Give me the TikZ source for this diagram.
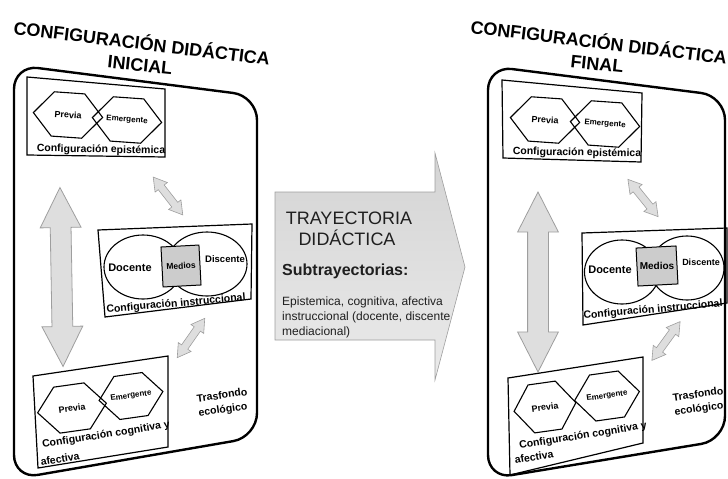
\documentclass[tikz,border=0pt]{standalone}
\usepackage{fontspec}
\setmainfont{Liberation Sans}
\usetikzlibrary{calc,shapes.geometric,shapes.arrows}
\definecolor{flecha}{rgb}{0.87,0.87,0.87}
\definecolor{borde}{rgb}{0.62,0.62,0.62}
\definecolor{texto}{rgb}{0.12,0.12,0.12}

\begin{document}
\begin{tikzpicture}[x=1pt,y=1pt,yscale=-1,
	hexa/.style={inner sep=0pt,minimum width=69pt,minimum height=44pt,font=\bfseries\fontsize{9}{9}\selectfont,
		append after command={\pgfextra{\draw[line width=1.1pt]
			(\tikzlastnode.west) -- ($(\tikzlastnode.north west)!0.28!(\tikzlastnode.north east)$)
			-- ($(\tikzlastnode.north west)!0.72!(\tikzlastnode.north east)$) -- (\tikzlastnode.east)
			-- ($(\tikzlastnode.south west)!0.72!(\tikzlastnode.south east)$)
			-- ($(\tikzlastnode.south west)!0.28!(\tikzlastnode.south east)$) -- cycle;}}},
	elipse/.style={ellipse,draw,line width=1.1pt,minimum width=78pt,minimum height=64pt},
	medios/.style={draw,fill=black!20,line width=1pt,inner sep=0pt,minimum width=38pt,minimum height=40pt,font=\bfseries\fontsize{8.5}{9}\selectfont},
	caja/.style={line width=1.2pt},
	marco/.style={line width=2.4pt,rounded corners=24pt},
	flechota/.style={double arrow,draw=borde,fill=flecha,line width=0.8pt,inner xsep=0pt,inner ysep=10pt,double arrow head extend=10pt,double arrow tip angle=54,minimum width=40pt},
	flechita/.style={double arrow,draw=borde,fill=flecha,line width=0.6pt,inner xsep=0pt,inner ysep=3.5pt,double arrow head extend=4pt,double arrow tip angle=62,minimum width=15pt,minimum height=48pt},
	titulo/.style={font=\bfseries\fontsize{18}{18}\selectfont,inner sep=0pt},
	etiq/.style={font=\bfseries\fontsize{10.5}{12}\selectfont,inner sep=0pt}]
\useasboundingbox (0,0) rectangle (728,479);

% panel inicial
\draw[marco] (14,65) -- (257,96) -- (257,437) -- (14,479) -- cycle;
\node[titulo,rotate=-7] (tituloA) at (142,42) {CONFIGURACIÓN DIDÁCTICA};
\node[titulo,rotate=-6] (inicial) at (140,65) {INICIAL};

\draw[caja] (27,77) -- (165,89) -- (165,157) -- (27,155) -- cycle;
\node[hexa,rotate=-4] (previaA) at (68,115) {Previa};
\node[hexa,rotate=-4,font=\bfseries\fontsize{8}{8}\selectfont] (emergA) at (127,120) {Emergente};
\node[etiq,rotate=-1] (epistA) at (101,150) {Configuración epistémica};

\node[flechota,rotate=91,minimum height=179pt] (vertA) at (61.5,277) {};
\node[flechita,rotate=-52] (diagA1) at (168,196) {};
\node[flechita,rotate=55] (diagA2) at (191,338) {};

\draw[caja] (98,230) -- (252,224) -- (251,299) -- (105,317) -- cycle;
\node[elipse] (docA) at (143,267) {};
\node[elipse,minimum width=80pt] (discA) at (207,264) {};
\node[medios,rotate=3] (medA) at (181,266) {Medios};
\node[etiq,font=\bfseries\fontsize{11}{11}\selectfont] (docteA) at (130,268) {Docente};
\node[etiq,font=\bfseries\fontsize{9.5}{10}\selectfont] (discteA) at (225,259) {Discente};
\node[etiq,rotate=5] (instrA) at (176,304) {Configuración instruccional};

\draw[caja] (33,376) -- (168,356) -- (168,447) -- (38,468) -- cycle;
\node[hexa,rotate=8,minimum height=46pt] (previaC) at (72,408) {Previa};
\node[hexa,rotate=8,minimum width=64pt,minimum height=43pt,font=\bfseries\fontsize{8}{8}\selectfont] (emergC) at (131,396) {Emergente};
\node[etiq,rotate=9] (cogA) at (106,435) {Configuración cognitiva y};
\node[etiq,rotate=9] (afecA) at (60,459) {afectiva};
\node[etiq,rotate=8] (trasA) at (222,395) {Trasfondo};
\node[etiq,rotate=8] (ecoA) at (223,410) {ecológico};

% trayectoria
\shade[top color=black!17,bottom color=black!8,draw=borde,line width=0.6pt] (275,192) -- (435,192) -- (435,153) -- (465,267) -- (435,380) -- (435,340) -- (275,340) -- cycle;
\node[text=texto,font=\fontsize{18}{18}\selectfont,inner sep=0pt] (tray) at (349,218) {TRAYECTORIA};
\node[text=texto,font=\fontsize{18}{18}\selectfont,inner sep=0pt] (didac) at (347,238) {DIDÁCTICA};
\node[text=texto,font=\bfseries\fontsize{16}{16}\selectfont,inner sep=0pt,anchor=west] (subt) at (282,271) {Subtrayectorias:};
\node[text=texto,font=\fontsize{12}{15}\selectfont,inner sep=0pt,anchor=north west,align=left] (lista) at (282,297) {Epistemica, cognitiva, afectiva\\instruccional (docente, discente\\mediacional)};

% panel final
\draw[marco] (488,66) -- (725,96) -- (725,440) -- (488,479) -- cycle;
\node[titulo,rotate=-7] (tituloB) at (599,41) {CONFIGURACIÓN DIDÁCTICA};
\node[titulo,rotate=-6] (final) at (597,64) {FINAL};

\draw[caja] (502,80) -- (642,93) -- (641,162) -- (503,158) -- cycle;
\node[hexa,rotate=-4] (previaB) at (545,120) {Previa};
\node[hexa,rotate=-4,font=\bfseries\fontsize{8}{8}\selectfont] (emergB) at (605,124) {Emergente};
\node[etiq,rotate=-1] (epistB) at (577,153) {Configuración epistémica};

\node[flechota,rotate=90,minimum height=180pt] (vertB) at (538,282) {};
\node[flechita,rotate=-51] (diagB1) at (643,198) {};
\node[flechita,rotate=54] (diagB2) at (666,341) {};

\draw[caja] (582,233) -- (727,228) -- (727,303) -- (583,325) -- cycle;
\node[elipse,minimum width=75pt] (docB) at (622,272) {};
\node[elipse,minimum width=74pt] (discB) at (687,268) {};
\node[medios,rotate=3,minimum width=40pt,minimum height=38pt] (medB) at (657,266) {};
\node[etiq,font=\bfseries\fontsize{11}{11}\selectfont] (docteB) at (610,270) {Docente};
\node[etiq,font=\bfseries\fontsize{10}{10}\selectfont] (medtB) at (657,266) {Medios};
\node[etiq,font=\bfseries\fontsize{9}{10}\selectfont] (discteB) at (701,262) {Discente};
\node[etiq,rotate=5] (instrB) at (653,310) {Configuración instruccional};

\draw[caja] (508,378) -- (643,357) -- (643,443) -- (510,475) -- cycle;
\node[hexa,rotate=8,minimum width=62pt,minimum height=48pt] (previaD) at (545,407) {Previa};
\node[hexa,rotate=8,minimum width=65pt,minimum height=46pt,font=\bfseries\fontsize{8}{8}\selectfont] (emergD) at (607,396) {Emergente};
\node[etiq,rotate=9] (cogB) at (583,436) {Configuración cognitiva y};
\node[etiq,rotate=9] (afecB) at (534,457) {afectiva};
\node[etiq,rotate=8] (trasB) at (698,394) {Trasfondo};
\node[etiq,rotate=8] (ecoB) at (699,409) {ecológico};
\end{tikzpicture}
\end{document}
